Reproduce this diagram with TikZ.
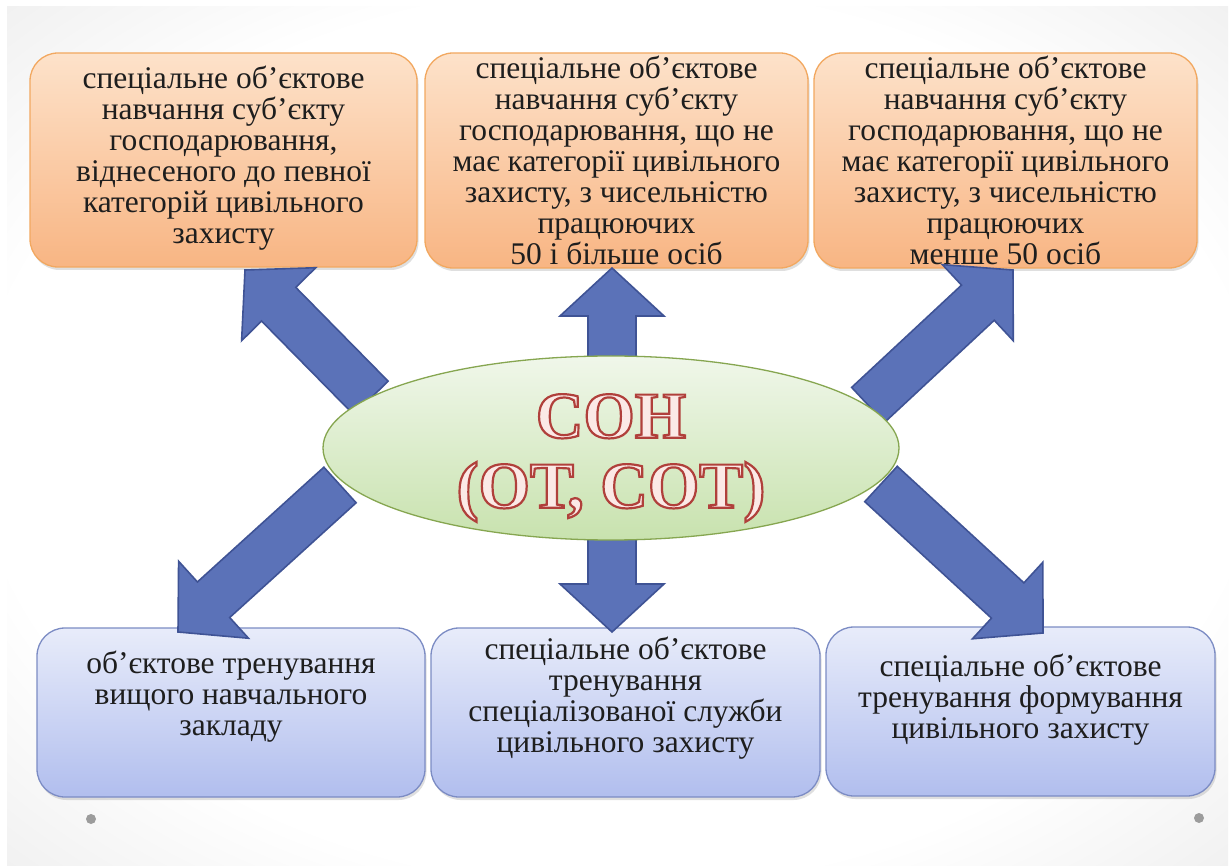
\documentclass[tikz,border=0pt]{standalone}
\usepackage{fontspec}
\setmainfont{Liberation Serif}
\usetikzlibrary{calc,shadows,shapes.geometric}
\definecolor{ortop}{HTML}{FDE2CA}
\definecolor{orbot}{HTML}{F8B583}
\definecolor{orline}{HTML}{F2A860}
\definecolor{bltop}{HTML}{E8ECFA}
\definecolor{blbot}{HTML}{B1BEEE}
\definecolor{blline}{HTML}{7C8CC4}
\definecolor{eltop}{HTML}{F0F7EA}
\definecolor{elbot}{HTML}{C8E2AE}
\definecolor{elline}{HTML}{86A650}
\definecolor{arfill}{HTML}{5B72B8}
\definecolor{arline}{HTML}{3F5395}
\definecolor{titfill}{HTML}{FBE9E6}
\definecolor{txtcol}{HTML}{1E1E1E}
\definecolor{dotgray}{HTML}{9C9C9C}
\pgfdeclareradialshading{bgshade}{\pgfpoint{0bp}{0bp}}{color(0bp)=(white); color(26bp)=(white); color(50bp)=(black!14); color(72bp)=(black!20)}
% outlined text: fill with current colour, stroke in dark red
\newcommand{\outltxt}[1]{\special{pdf:literal direct 0.69 0.25 0.23 RG 2.2 w 2 Tr}#1\special{pdf:literal direct 0 Tr}}
\newcommand{\blkarrow}[3]{%
  \coordinate (#3) at ($(#2)!48pt!(#1)$);
  \draw[blockarr] ($(#1)!24pt!90:(#2)$) -- ($(#3)!24pt!90:(#2)$) -- ($(#3)!52pt!90:(#2)$) -- (#2)
    -- ($(#3)!52pt!-90:(#2)$) -- ($(#3)!24pt!-90:(#2)$) -- ($(#1)!24pt!-90:(#2)$) -- cycle;}
\begin{document}
\begin{tikzpicture}[x=1pt,y=-1pt,
  orbox/.style={rectangle, draw=orline, line width=1.3pt, rounded corners=28pt,
    top color=ortop, bottom color=orbot,
    drop shadow={opacity=0.25,shadow xshift=1.5pt,shadow yshift=-3pt}},
  blbox/.style={rectangle, draw=blline, line width=1.3pt, rounded corners=28pt,
    top color=bltop, bottom color=blbot,
    drop shadow={opacity=0.25,shadow xshift=1.5pt,shadow yshift=-3pt}},
  boxtext/.style={align=center, text=txtcol, font=\fontsize{31.5}{31}\selectfont, inner sep=0pt},
  blockarr/.style={fill=arfill, draw=arline, line width=1.6pt, line join=miter},
  dotnode/.style={circle, fill=dotgray, minimum size=10pt, inner sep=0pt}]
\useasboundingbox (0,0) rectangle (1232,866);
\fill[white] (0,0) rectangle (1232,866);
\shade[shading=bgshade] (7,7) rectangle (1228,866);

% top boxes
\node[orbox, minimum width=387pt, minimum height=214pt] (tl) at (223.5,160) {};
\node[orbox, minimum width=383pt, minimum height=215pt] (tm) at (616.5,160.5) {};
\node[orbox, minimum width=383pt, minimum height=215pt] (tr) at (1005.5,160.5) {};
% bottom boxes
\node[blbox, minimum width=388pt, minimum height=169pt] (bl) at (231,712.5) {};
\node[blbox, minimum width=389pt, minimum height=169pt] (bm) at (625.5,712.5) {};
\node[blbox, minimum width=389pt, minimum height=169pt] (br) at (1020.5,711.5) {};

\node[boxtext] (tlt) at ($(tl.center)+(0,-2)$) {спеціальне об'єктове\\навчання суб’єкту\\господарювання,\\віднесеного до певної\\категорій цивільного\\захисту};
\node[boxtext] (tmt) at (tm.center) {спеціальне об'єктове\\навчання суб’єкту\\господарювання, що не\\має категорії цивільного\\захисту, з чисельністю\\працюючих\\50 і більше осіб};
\node[boxtext] (trt) at (tr.center) {спеціальне об'єктове\\навчання суб’єкту\\господарювання, що не\\має категорії цивільного\\захисту, з чисельністю\\працюючих\\менше 50 осіб};
\node[boxtext] (blt) at ($(bl.center)+(0,-16)$) {об'єктове тренування\\вищого навчального\\закладу};
\node[boxtext] (bmt) at ($(bm.center)+(0,-14)$) {спеціальне об’єктове\\тренування\\спеціалізованої служби\\цивільного захисту};
\node[boxtext] (brt) at ($(br.center)+(0,-12)$) {спеціальне об’єктове\\тренування формування\\цивільного захисту};

% arrow end points
\coordinate (a1t) at (371,398); \coordinate (a1h) at (245,270);
\coordinate (a2t) at (612,364); \coordinate (a2h) at (612,268);
\coordinate (a3t) at (868,405); \coordinate (a3h) at (1013,270);
\coordinate (a4t) at (340,485); \coordinate (a4h) at (178,632);
\coordinate (a5t) at (612,534); \coordinate (a5h) at (612,632);
\coordinate (a6t) at (881,484); \coordinate (a6h) at (1043,633);
\blkarrow{a1t}{a1h}{a1n}
\blkarrow{a2t}{a2h}{a2n}
\blkarrow{a3t}{a3h}{a3n}
\blkarrow{a4t}{a4h}{a4n}
\blkarrow{a5t}{a5h}{a5n}
\blkarrow{a6t}{a6h}{a6n}

% centre ellipse
\node[ellipse, draw=elline, line width=1.3pt, top color=eltop, bottom color=elbot,
  minimum width=576pt, minimum height=184pt, inner sep=0pt] (son) at (611,448) {};
\node[align=center, text=titfill, inner sep=0pt, font=\fontsize{66}{70}\selectfont\bfseries]
  (title) at ($(son.center)+(0,10)$) {\outltxt{СОН}\\\outltxt{(ОТ, СОТ)}};

\node[dotnode] (d1) at (91,819) {};
\node[dotnode] (d2) at (1199,818) {};
\end{tikzpicture}
\end{document}
